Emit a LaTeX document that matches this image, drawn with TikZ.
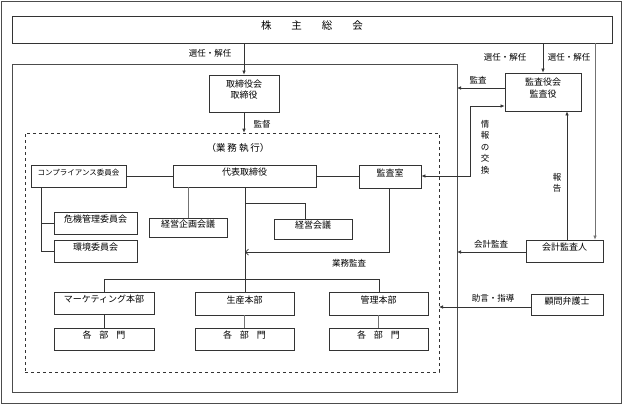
\documentclass[tikz,border=0pt]{standalone}
\usepackage{fontspec}
\setmainfont{Noto Sans CJK JP}
\usetikzlibrary{arrows.meta,fit}
\begin{document}
\begin{tikzpicture}[x=1pt,y=-1pt,
  ln/.style={draw=black!80, line width=0.7pt},
  lng/.style={draw=black!55, line width=0.7pt},
  box/.style={draw=black!80, line width=0.8pt, inner sep=0pt, fill=white, font=\fontsize{9}{11.5}\selectfont, align=center},
  frame/.style={draw=black!70, line width=0.8pt},
  lbl/.style={font=\fontsize{8.5}{11.5}\selectfont, inner sep=0pt, align=center},
  arr/.style={ln, -{Latex[length=4pt,width=3.6pt]}},
  darr/.style={ln, {Latex[length=4pt,width=3.6pt]}-{Latex[length=4pt,width=3.6pt]}},
  oarr/.style={ln, -{Straight Barb[length=3pt,width=6pt]}}
]
\useasboundingbox (0,0) rectangle (623,405);
\fill[white] (0,0) rectangle (623,405);
% frames
\draw[frame] (1,1) rectangle (621,403);
\node[box, fit={(12,16) (612,43)}, font=\fontsize{10.5}{12}\selectfont] (agm) {株\hspace{20pt}主\hspace{20pt}総\hspace{20pt}会};
\node[frame, inner sep=0pt, fit={(12,64) (457,392)}] (board) {};
\node[draw=black!80, dashed, line width=0.7pt, inner sep=0pt, fit={(25,133) (439,372)}] (exec) {};
\node[lbl, font=\fontsize{9.5}{11}\selectfont] (execl) at (238,148) {（業\hspace{2pt}務\hspace{2pt}執\hspace{2pt}行）};

% boxes
\node[box, fit={(209,75) (279,112)}] (bod) {取締役会\\取締役};
\node[box, fit={(31,165) (126,187)}, font=\fontsize{7.5}{9}\selectfont] (comp) {コンプライアンス委員会};
\node[box, fit={(173,165) (316,187)}] (ceo) {代表取締役};
\node[box, fit={(359,165) (421,188)}] (audr) {監査室};
\node[box, fit={(54,212) (137,234)}] (risk) {危機管理委員会};
\node[box, fit={(54,240) (137,262)}] (env) {環境委員会};
\node[box, fit={(149,218) (227,237)}] (plan) {経営企画会議};
\node[box, fit={(274,219) (352,239)}] (mgmt) {経営会議};
\node[box, fit={(54,292) (154,314)}] (mkt) {マーケティング本部};
\node[box, fit={(54,328) (154,350)}] (d1) {各\hspace{8pt}部\hspace{8pt}門};
\node[box, fit={(195,292) (294,315)}] (prod) {生産本部};
\node[box, fit={(195,328) (294,350)}] (d2) {各\hspace{8pt}部\hspace{8pt}門};
\node[box, fit={(329,292) (428,315)}] (adm) {管理本部};
\node[box, fit={(329,328) (428,350)}] (d3) {各\hspace{8pt}部\hspace{8pt}門};
\node[box, fit={(505,73) (581,111)}] (kansa) {監査役会\\監査役};
\node[box, fit={(526,240) (603,262)}] (acct) {会計監査人};
\node[box, fit={(531,294) (603,315)}] (law) {顧問弁護士};

% coordinates
\coordinate (bRight1) at (457,88);
\coordinate (bRight2) at (457,252);
\coordinate (eRight) at (439,307);
\coordinate (jun) at (245,252);

% connectors
\draw[arr] (agm.south -| bod.north) -- (bod.north);
\draw[arr] (bod.south) -- (bod.south |- exec.north);
\draw[arr] (543,43) -- (kansa.north -| 543,0);
\draw[lng, -{Latex[length=4pt,width=3.6pt]}] (595,43) -- (acct.north -| 595,0);
\draw[arr] (kansa.west |- bRight1) -- (bRight1);
\draw[darr] (audr.east |- 0,176) -- (470,176) -- (470,106) -- (kansa.west |- 0,106);
\draw[arr] (acct.north -| 567,0) -- (kansa.south -| 567,0);
\draw[arr] (acct.west |- bRight2) -- (bRight2);
\draw[arr] (law.west |- eRight) -- (eRight);

\draw[ln] (comp.east) -- (ceo.west);
\draw[ln] (ceo.east |- audr.west) -- (audr.west);
\draw[ln] (comp.south -| 41,0) -- (41,0 |- env.west) -- (env.west);
\draw[ln] (41,0 |- risk.west) -- (risk.west);
\draw[lng] (ceo.south -| 188,0) -- (plan.north -| 188,0);
\draw[ln] (ceo.south -| 245,0) -- (245,292);
\draw[ln] (245,203) -- (305,203) -- (mgmt.north -| 305,0);
\draw[oarr] (audr.south -| 389,0) -- (389,252) -- (jun);
\draw[ln] (mkt.north) -- (104,279) -- (379,279) -- (adm.north -| 379,0);
\draw[ln] (mkt.south) -- (d1.north);
\draw[lng] (prod.south) -- (d2.north);
\draw[lng] (adm.south) -- (d3.north);

% labels
\node[lbl] (l1) at (210,53) {選任・解任};
\node[lbl] (l2) at (505,57) {選任・解任};
\node[lbl] (l3) at (569,57) {選任・解任};
\node[lbl] (l4) at (262,124) {監督};
\node[lbl] (l5) at (478,80) {監査};
\node[lbl] (l6) at (485,147) {情\\報\\の\\交\\換};
\node[lbl] (l7) at (557,183) {報\\告};
\node[lbl] (l8) at (491,244) {会計監査};
\node[lbl] (l9) at (349,263) {業務監査};
\node[lbl] (l10) at (493,298) {助言・指導};
\end{tikzpicture}
\end{document}
